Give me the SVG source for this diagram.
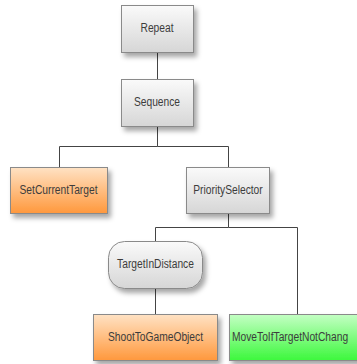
<svg xmlns="http://www.w3.org/2000/svg" width="357" height="364" viewBox="0 0 357 364">
<style>
.box{stroke:#8a8a8a;stroke-width:1;filter:url(#sh)}
.lbl{font-family:"Liberation Sans",Arial,sans-serif;font-size:12.5px;fill:#3c3c3c;text-anchor:middle}
.con{stroke:#444;stroke-width:1;fill:none}
</style>
<defs>
<linearGradient id="g" x1="0" y1="0" x2="0" y2="1"><stop offset="0" stop-color="#fafafa"/><stop offset="1" stop-color="#d6d6d6"/></linearGradient>
<linearGradient id="o" x1="0" y1="0" x2="0" y2="1"><stop offset="0" stop-color="#ffe2c4"/><stop offset="1" stop-color="#ff983c"/></linearGradient>
<linearGradient id="gr" x1="0" y1="0" x2="0" y2="1"><stop offset="0" stop-color="#c4ffc4"/><stop offset="1" stop-color="#3cf83c"/></linearGradient>
<filter id="sh" x="-20%" y="-20%" width="150%" height="160%"><feDropShadow dx="3" dy="4" stdDeviation="2.5" flood-color="#000" flood-opacity="0.35"/></filter>
</defs>
<g id="connectors">
<path class="con" d="M157.5 52V79"/>
<path class="con" d="M157.5 126V146.5H59.5V167M157.5 146.5H228.5V167"/>
<path class="con" d="M228.5 213V227.5H155.5V241M228.5 227.5H297.5V314"/>
<path class="con" d="M155.5 288V314"/>
</g>
<g id="repeat"><rect class="box" x="121.5" y="5.5" width="72" height="47" fill="url(#g)"/><text class="lbl" transform="translate(157 32) scale(0.82 1)">Repeat</text></g>
<g id="sequence"><rect class="box" x="121.5" y="79.5" width="72" height="47" fill="url(#g)"/><text class="lbl" transform="translate(157 106) scale(0.82 1)">Sequence</text></g>
<g id="setcurrenttarget"><rect class="box" x="10.5" y="167.5" width="97" height="46" fill="url(#o)"/><text class="lbl" transform="translate(58.5 194) scale(0.82 1)">SetCurrentTarget</text></g>
<g id="priorityselector"><rect class="box" x="186.5" y="167.5" width="83" height="46" fill="url(#g)"/><text class="lbl" transform="translate(228 194) scale(0.82 1)">PrioritySelector</text></g>
<g id="targetindistance"><rect class="box" x="108.5" y="241.5" width="94" height="47" rx="16" ry="16" fill="url(#g)"/><text class="lbl" transform="translate(155.5 268) scale(0.82 1)">TargetInDistance</text></g>
<g id="shoottogameobject"><rect class="box" x="93.5" y="314.5" width="124" height="46" fill="url(#o)"/><text class="lbl" transform="translate(155.5 341) scale(0.82 1)">ShootToGameObject</text></g>
<g id="movetoiftargetnotchanged"><rect class="box" x="229.5" y="314.5" width="140" height="46" fill="url(#gr)"/><text class="lbl" transform="translate(232 341) scale(0.82 1)" style="text-anchor:start">MoveToIfTargetNotChang</text></g>
</svg>
